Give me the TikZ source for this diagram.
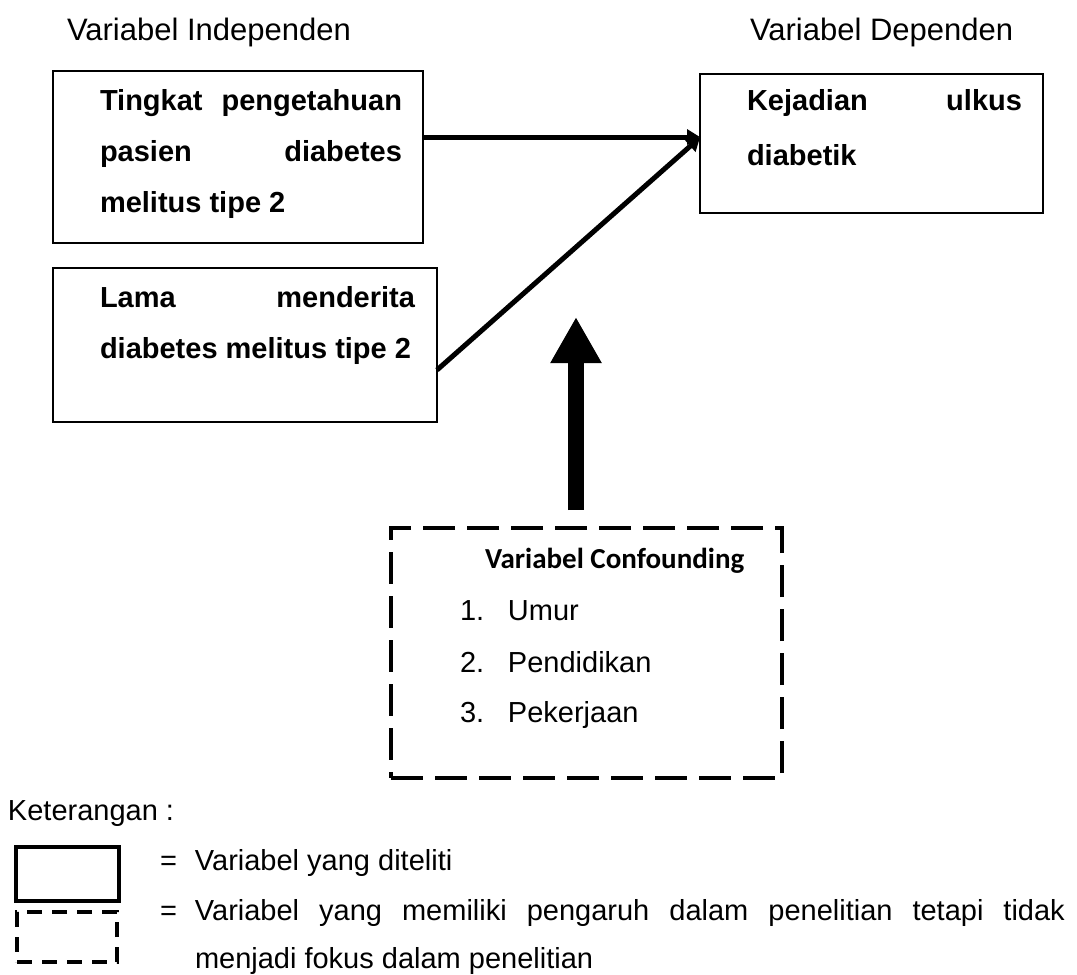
\documentclass[tikz,border=0pt]{standalone}
\usepackage{fontspec}
\setmainfont{Liberation Sans}
\newfontfamily\calibri{Carlito}
\usetikzlibrary{arrows.meta,calc}
\tikzset{>={Triangle[length=13pt,width=15pt]},
  every node/.style={inner sep=0pt,outer sep=0pt,font=\fontsize{29}{51}\selectfont},
  teks/.style={anchor=base west},
  judul/.style={anchor=base west,font=\fontsize{31}{36}\selectfont},
  varbox/.style={draw,rectangle,line width=1.5pt},
  boxtext/.style={anchor=north west,align=justify,font=\bfseries\fontsize{29}{51}\selectfont},
  confbox/.style={draw,rectangle,line width=4pt,dash pattern=on 32pt off 12pt},
  panah/.style={->,line width=5pt},
  panahbesar/.style={-{Triangle[length=46pt,width=48pt]},line width=16pt}}

\begin{document}
\begin{tikzpicture}[x=1pt,y=-1pt]
\useasboundingbox (0,0) rectangle (1077,975);
% judul kolom
\node[judul] (independen) at (67,40) {Variabel Independen};
\node[judul] (dependen) at (750,40) {Variabel Dependen};
% kotak variabel
\node[varbox,minimum width=370,minimum height=172] (pengetahuan) at (238,157) {};
\node[boxtext,text width=302pt] (pengetahuantxt) at (100,89.2)
  {Tingkat pengetahuan\linebreak pasien diabetes\linebreak melitus tipe 2};
\node[varbox,minimum width=384,minimum height=154] (lama) at (245,345) {};
\node[boxtext,text width=315pt] (lamatxt) at (100,286.2)
  {Lama menderita\linebreak \makebox[315pt][l]{diabetes melitus tipe 2}};
\node[varbox,minimum width=343,minimum height=139] (ulkus) at (871.5,143.5) {};
\node[boxtext,text width=275pt,font=\bfseries\fontsize{29}{55}\selectfont] (ulkustxt) at (747,89.2)
  {Kejadian ulkus\linebreak diabetik};
\draw[panah] ([yshift=20pt]pengetahuan.east) -- ([yshift=20pt]pengetahuan.east -| ulkus.west);
\draw[panah] ([yshift=-25pt]lama.east) -- ([yshift=6pt]ulkus.west);
% variabel confounding
\node[confbox,minimum width=391,minimum height=250] (confounding) at (586.5,653) {};
\node[teks,font=\calibri\bfseries\fontsize{29}{36}\selectfont] (judulconf) at (485,568) {Variabel Confounding};
\node[teks] (umur) at (460,620) {\makebox[48pt][l]{1.}Umur};
\node[teks] (pendidikan) at (460,672) {\makebox[48pt][l]{2.}Pendidikan};
\node[teks] (pekerjaan) at (460,722) {\makebox[48pt][l]{3.}Pekerjaan};
\coordinate (puncak) at (576,317);
\draw[panahbesar] ([yshift=18pt]confounding.north -| puncak) -- (puncak);
% keterangan
\node[teks] (keterangan) at (8,820) {Keterangan :};
\node[draw,line width=4pt,minimum width=103,minimum height=54] (contohtetap) at (67.5,874) {};
\node[draw,line width=3.5pt,dash pattern=on 15pt off 10pt,minimum width=100,minimum height=50] (contohputus) at (67,937) {};
\node[teks] (ket1) at (160,870) {=\hspace{18pt}Variabel yang diteliti};
\node[teks] (ket2) at (160,920) {=\hspace{18pt}\makebox[870pt][s]{Variabel yang memiliki pengaruh dalam penelitian tetapi tidak}};
\node[teks] (ket3) at (195,968) {menjadi fokus dalam penelitian};
\end{tikzpicture}
\end{document}
